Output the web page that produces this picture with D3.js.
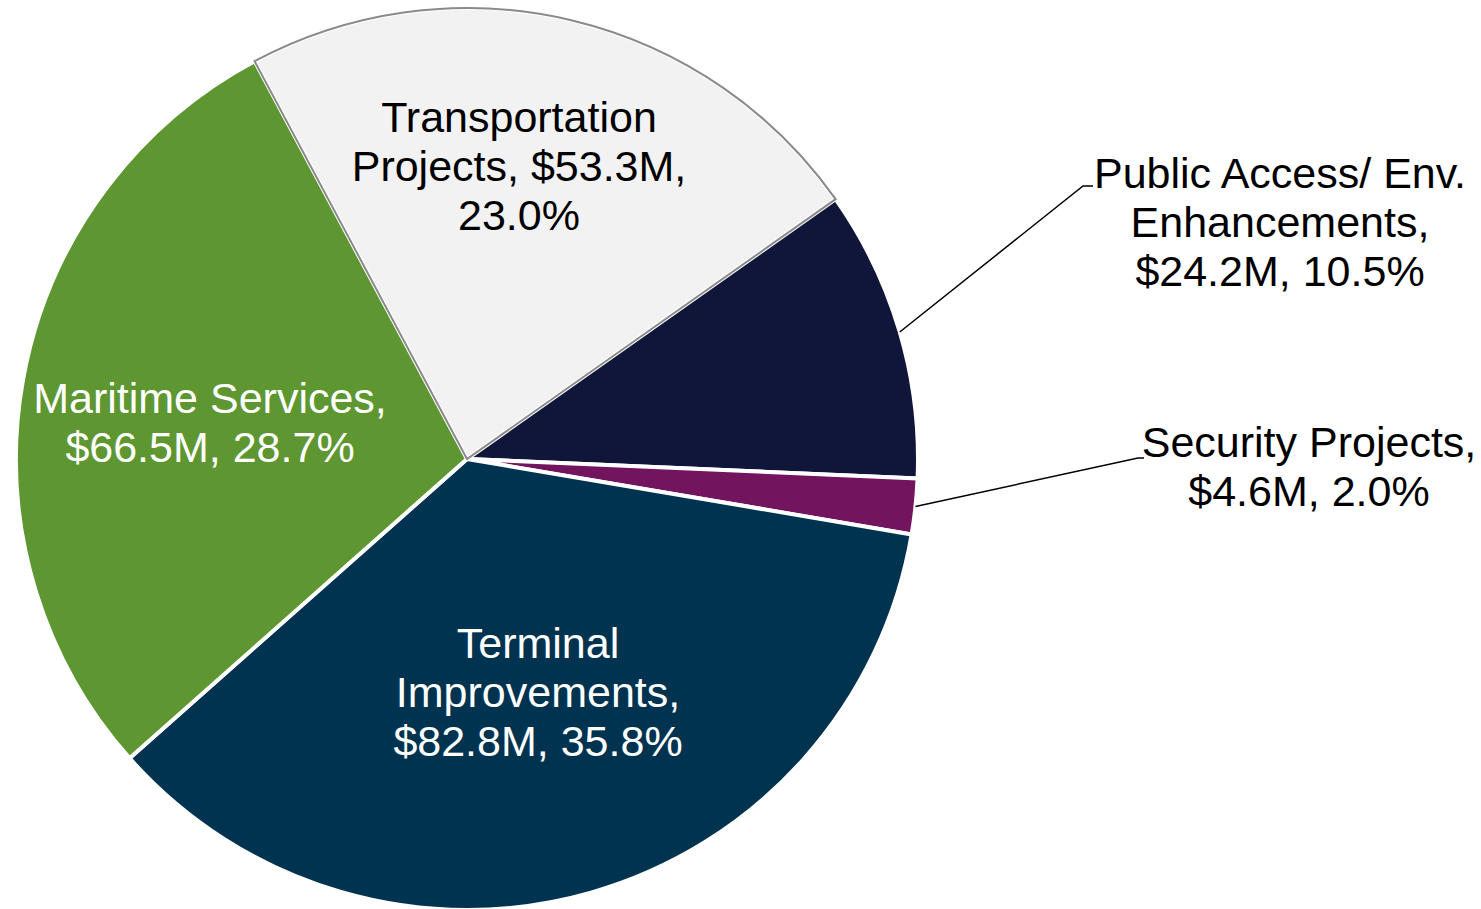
<!DOCTYPE html>
<html>
<head>
<meta charset="utf-8">
<script src="https://cdn.jsdelivr.net/npm/d3@7/dist/d3.min.js"></script>
<style>
  body { margin: 0; background: #fff; }
  svg text { font-family: "Liberation Sans", Arial, sans-serif; }
</style>
</head>
<body>
<div class="chart"></div>
<script>
// data
var categories = ["Transportation Projects", "Public Access/ Env. Enhancements", "Security Projects", "Terminal Improvements", "Maritime Services"];
var amounts = [53.3, 24.2, 4.6, 82.8, 66.5];
var labelLines = [
    ["Transportation", "Projects, $53.3M,", "23.0%"],
    ["Public Access/ Env.", "Enhancements,", "$24.2M, 10.5%"],
    ["Security Projects,", "$4.6M, 2.0%"],
    ["Terminal", "Improvements,", "$82.8M, 35.8%"],
    ["Maritime Services,", "$66.5M, 28.7%"]
];
var colors = ["#f2f2f2", "#10163a", "#73145f", "#003350", "#5e9732"];
var textColors = ["#000", "#000", "#000", "#fff", "#fff"];

var width = 1481;
var height = 909;
var cx = 467, cy = 459, radius = 451;

// label placement (first baseline) and leader line ends
var labelPos = [
    {x: 519, y: 132},
    {x: 1280, y: 188, lead: [1083, 186, 1093, 186]},
    {x: 1309, y: 457, lead: [1138, 458, 1144, 458]},
    {x: 538, y: 658},
    {x: 210, y: 413}
];
var lineH = 49;

var svg = d3.select(".chart")
    .append("svg")
    .attr("width", width)
    .attr("height", height);

var g = svg.append("g")
    .attr("transform", "translate(" + cx + "," + cy + ")");

var startA = -28.1 * Math.PI / 180;
var pie = d3.pie()
    .sort(null)
    .value(function (d) { return d; })
    .startAngle(startA)
    .endAngle(startA + 2 * Math.PI);

var arcs = pie(amounts);
var arc = d3.arc().innerRadius(0).outerRadius(radius);

g.selectAll("path.slice")
    .data(arcs)
    .enter()
    .append("path")
    .attr("class", "slice")
    .attr("d", arc)
    .attr("fill", function (d, i) { return colors[i]; })
    .attr("stroke", "#fff")
    .attr("stroke-width", 4)
    .attr("stroke-linejoin", "round");

// grey outline on the light slice
g.append("path")
    .attr("d", arc(arcs[0]))
    .attr("fill", "none")
    .attr("stroke", "#8a8a8a")
    .attr("stroke-width", 2);

// leader lines
arcs.forEach(function (d, i) {
    var p = labelPos[i];
    if (!p.lead) return;
    var mid = (d.startAngle + d.endAngle) / 2;
    var x0 = radius * Math.sin(mid), y0 = -radius * Math.cos(mid);
    svg.append("polyline")
        .attr("points", [
            [cx + x0, cy + y0],
            [p.lead[0], p.lead[1]],
            [p.lead[2], p.lead[3]]
        ].map(function (q) { return q.join(","); }).join(" "))
        .attr("fill", "none")
        .attr("stroke", "#000")
        .attr("stroke-width", 1.5);
});

// labels
labelLines.forEach(function (lines, i) {
    var t = svg.append("text")
        .attr("text-anchor", "middle")
        .attr("font-size", 43)
        .attr("fill", textColors[i]);
    lines.forEach(function (s, k) {
        t.append("tspan")
            .attr("x", labelPos[i].x)
            .attr("y", labelPos[i].y + k * lineH)
            .text(s);
    });
});
</script>
</body>
</html>
